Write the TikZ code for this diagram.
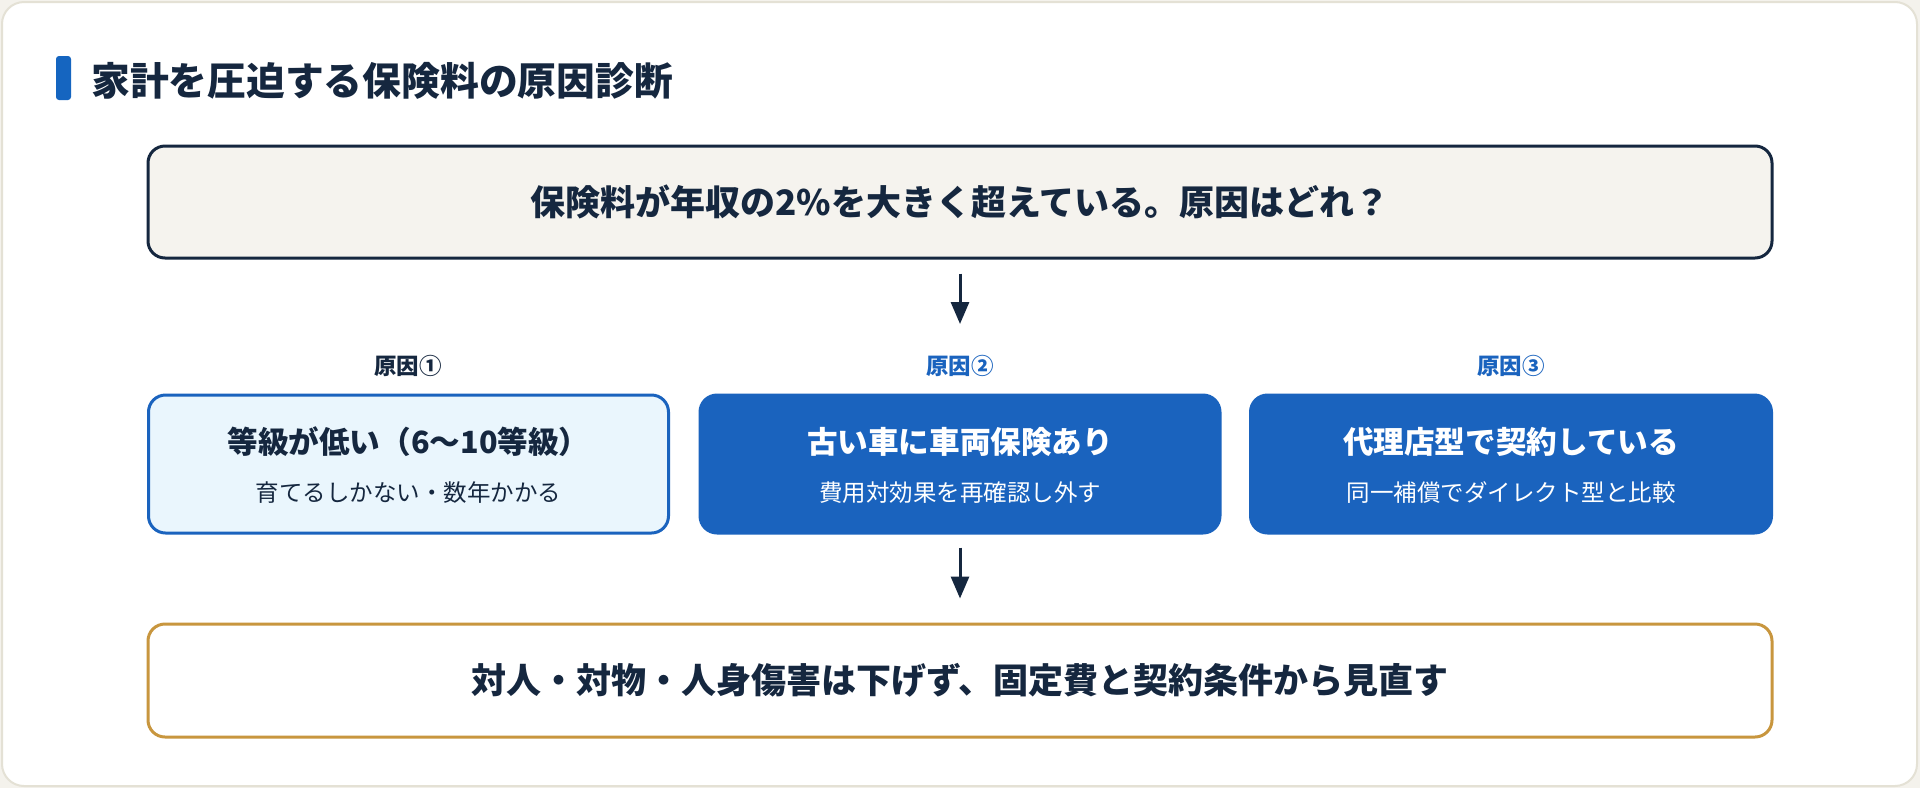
\documentclass[tikz,border=0pt]{standalone}
\usepackage{fontspec}
\setmainfont{Noto Sans CJK JP}
\usetikzlibrary{arrows.meta}
\definecolor{navy}{HTML}{15273F}
\definecolor{bluebox}{HTML}{1A63BE}
\definecolor{titlebar}{HTML}{1565C0}
\definecolor{gold}{HTML}{C8963E}
\definecolor{topfill}{HTML}{F5F3EE}
\definecolor{lightfill}{HTML}{EAF6FD}
\definecolor{cardline}{HTML}{E4E1D5}
\definecolor{outside}{HTML}{F4F2EC}
\newcommand{\fs}[1]{\fontsize{#1}{#1}\selectfont}
\tikzset{
  box/.style={rectangle, rounded corners=17pt, line width=3pt, inner sep=0pt},
  topbox/.style={box, draw=navy, fill=topfill, minimum width=1624pt, minimum height=112pt},
  botbox/.style={box, draw=gold, fill=white, minimum width=1624pt, minimum height=113pt},
  lightbox/.style={box, draw=bluebox, fill=lightfill, minimum width=520pt, minimum height=138pt},
  darkbox/.style={box, draw=bluebox, fill=bluebox, minimum width=520pt, minimum height=138pt},
  bigtxt/.style={font=\fs{35}\bfseries, text=navy, inner sep=0pt},
  maintxt/.style={font=\fs{30.6}\bfseries, inner sep=0pt},
  subtxt/.style={font=\fs{23.5}, inner sep=0pt},
  lbl/.style={font=\fs{22.5}\bfseries, inner sep=0pt},
  arr/.style={draw=navy, line width=3pt, -{Triangle[width=18pt,length=22pt]}}
}
\begin{document}
\begin{tikzpicture}[x=1pt,y=-1pt]
\fill[outside] (0,0) rectangle (1920,788);
\useasboundingbox (0,0) rectangle (1920,788);
\draw[cardline, fill=white, line width=2pt, rounded corners=22pt] (2,2) rectangle (1917,786);
% title
\fill[titlebar, rounded corners=3pt] (56,56) rectangle (71,100);
\node[anchor=west, font=\fs{38.8}\bfseries, text=navy, inner sep=0pt] (title) at (91,81) {家計を圧迫する保険料の原因診断};
% top box
\node[topbox] (top) at (960,202) {};
\node[bigtxt] (toptxt) at (top.center) {保険料が年収の2\%を大きく超えている。原因はどれ？};
\coordinate (a1e) at (960,324);
\draw[arr, shorten <=14pt] (top.south) -- (a1e);
% labels
\node[lbl, text=navy] (l1) at (408,366) {原因①};
\node[lbl, text=bluebox] (l2) at (960,366) {原因②};
\node[lbl, text=bluebox] (l3) at (1511,366) {原因③};
% cause boxes
\node[lightbox] (b1) at (408.5,464) {};
\node[darkbox] (b2) at (960,464) {};
\node[darkbox, minimum width=521pt] (b3) at (1511,464) {};
\node[maintxt, text=navy] (m1) at (408.5,442) {等級が低い（6～10等級）};
\node[subtxt, text=navy] (s1) at (408.5,493) {育てるしかない・数年かかる};
\node[maintxt, text=white] (m2) at (960,442) {古い車に車両保険あり};
\node[subtxt, text=white] (s2) at (960,493) {費用対効果を再確認し外す};
\node[maintxt, text=white] (m3) at (1511,442) {代理店型で契約している};
\node[subtxt, text=white] (s3) at (1511,493) {同一補償でダイレクト型と比較};
% bottom box
\node[botbox] (bot) at (960,680.5) {};
\node[bigtxt] (bottxt) at (bot.center) {対人・対物・人身傷害は下げず、固定費と契約条件から見直す};
\draw[arr, shorten <=13pt, shorten >=24pt] (b2.south) -- (bot.north);
\end{tikzpicture}
\end{document}
